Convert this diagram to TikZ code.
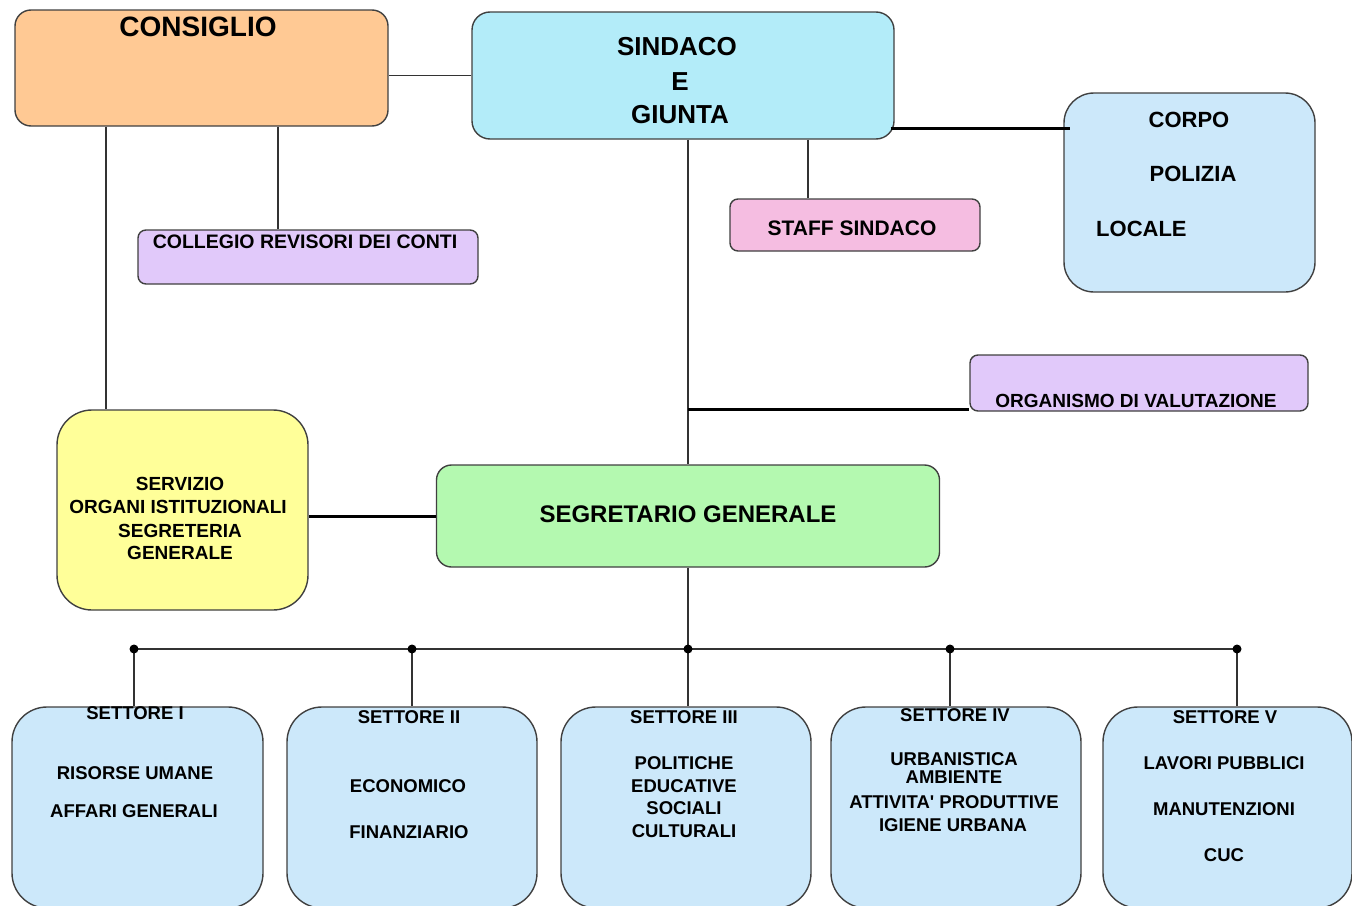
\documentclass[tikz,border=0pt]{standalone}
\usepackage{fontspec}
\setmainfont{Liberation Sans}[Ligatures=TeXOff]
\definecolor{cconsiglio}{HTML}{FFC994}
\definecolor{csindaco}{HTML}{B3ECF9}
\definecolor{cblue}{HTML}{CCE8FA}
\definecolor{cpink}{HTML}{F5BDE1}
\definecolor{clilac}{HTML}{E1C9FA}
\definecolor{cyellow}{HTML}{FFFF99}
\definecolor{cgreen}{HTML}{B4F9B0}
\definecolor{cedge}{HTML}{404040}
\definecolor{cline}{HTML}{333333}
\newcommand\fsz[1]{\fontsize{#1}{#1}\selectfont}
\tikzset{
  box/.style={draw=cedge, line width=1.4pt, inner sep=0pt},
  txt/.style={inner sep=0pt, font=\bfseries, text=black},
  conn/.style={draw=cline, line width=1.5pt},
  thickconn/.style={draw=black, line width=3pt},
}
\begin{document}
\begin{tikzpicture}[x=1pt,y=-1pt]
\useasboundingbox (0,0) rectangle (1352,905);
% boxes
\node[box, fill=cconsiglio, minimum width=373pt, minimum height=116pt, rounded corners=16pt] (cons) at (201.5,68) {};
\node[box, fill=csindaco, minimum width=422pt, minimum height=127pt, rounded corners=18pt] (sind) at (683,75.5) {};
\node[box, fill=cblue, minimum width=251pt, minimum height=199pt, rounded corners=30pt] (corpo) at (1189.5,192.5) {};
\node[box, fill=cpink, minimum width=250pt, minimum height=52pt, rounded corners=8pt] (staff) at (855,225) {};
\node[box, fill=clilac, minimum width=340pt, minimum height=54pt, rounded corners=8pt] (coll) at (308,257) {};
\node[box, fill=clilac, minimum width=338pt, minimum height=56pt, rounded corners=8pt] (org) at (1139,383) {};
\node[box, fill=cyellow, minimum width=251pt, minimum height=200pt, rounded corners=35pt] (serv) at (182.5,510) {};
\node[box, fill=cgreen, minimum width=503pt, minimum height=102pt, rounded corners=15pt] (segr) at (688,516) {};
\node[box, fill=cblue, minimum width=251pt, minimum height=201pt, rounded corners=35pt] (s1) at (137.5,807.5) {};
\node[box, fill=cblue, minimum width=250pt, minimum height=201pt, rounded corners=35pt] (s2) at (412,807.5) {};
\node[box, fill=cblue, minimum width=250pt, minimum height=201pt, rounded corners=35pt] (s3) at (686,807.5) {};
\node[box, fill=cblue, minimum width=250pt, minimum height=201pt, rounded corners=35pt] (s4) at (956,807.5) {};
\node[box, fill=cblue, minimum width=249pt, minimum height=201pt, rounded corners=35pt] (s5) at (1227.5,807.5) {};
% connectors
\draw[conn] (sind.west) -- (sind.west -| cons.east);
\draw[conn] ([xshift=-95.5pt]cons.south) -- ([xshift=-95.5pt]cons.south |- serv.north);
\draw[conn] ([xshift=76.5pt]cons.south) -- ([xshift=76.5pt]cons.south |- coll.north);
\draw[conn] ([xshift=5pt]sind.south) -- ([xshift=5pt]sind.south |- segr.north);
\draw[conn] ([xshift=125pt]sind.south) -- ([xshift=125pt]sind.south |- staff.north);
\draw[thickconn] ([xshift=-4pt,yshift=-52.5pt]sind.east) -- ([xshift=7pt,yshift=-52.5pt]sind.east -| corpo.west);
\draw[thickconn] ([yshift=-26pt]org.west -| segr.north) -- ([yshift=-26pt]org.west);
\draw[thickconn] (segr.west) -- (segr.west -| serv.east);
\coordinate (d1) at (134,649);
\coordinate (d2) at (412,649);
\coordinate (d3) at (688,649);
\coordinate (d4) at (950,649);
\coordinate (d5) at (1237,649);
\draw[conn] (segr.south) -- (d3);
\draw[conn] (d1) -- (d5);
\draw[conn] (d1) -- (d1 |- s1.north);
\draw[conn] (d2) -- (d2 |- s2.north);
\draw[conn] (d3) -- (d3 |- s3.north);
\draw[conn] (d4) -- (d4 |- s4.north);
\draw[conn] (d5) -- (d5 |- s5.north);
\foreach \d in {d1,d2,d3,d4,d5} \fill[black] (\d) circle[radius=4.5pt];
% texts
\node[txt, font=\bfseries\fsz{28}] (tcons) at (198,27) {CONSIGLIO};
\node[txt, font=\bfseries\fsz{26}] (tsa) at (677,47) {SINDACO};
\node[txt, font=\bfseries\fsz{26}] (tsb) at (680,82) {E};
\node[txt, font=\bfseries\fsz{26}] (tsc) at (680,115) {GIUNTA};
\node[txt, font=\bfseries\fsz{21}] (tstaff) at (852,228) {STAFF SINDACO};
\node[txt, font=\bfseries\fsz{22}] (tca) at (1189,120) {CORPO};
\node[txt, font=\bfseries\fsz{22}] (tcb) at (1193,174) {POLIZIA};
\node[txt, font=\bfseries\fsz{22}, anchor=west] (tcc) at (1096,229) {LOCALE};
\node[txt, font=\bfseries\fsz{19.5}] (tcoll) at (305,242) {COLLEGIO REVISORI DEI CONTI};
\node[txt, font=\bfseries\fsz{19}] (torg) at (1136,401) {ORGANISMO DI VALUTAZIONE};
\node[txt, font=\bfseries\fsz{19}] (tva) at (180,484) {SERVIZIO};
\node[txt, font=\bfseries\fsz{19}] (tvb) at (178,507) {ORGANI ISTITUZIONALI};
\node[txt, font=\bfseries\fsz{19}] (tvc) at (180,531) {SEGRETERIA};
\node[txt, font=\bfseries\fsz{19}] (tvd) at (180,553) {GENERALE};
\node[txt, font=\bfseries\fsz{24}] (tsegr) at (688,514) {SEGRETARIO GENERALE};
% settore I
\node[txt, font=\bfseries\fsz{18.5}] (t1a) at (135,713) {SETTORE I};
\node[txt, font=\bfseries\fsz{18.5}] (t1b) at (135,773) {RISORSE UMANE};
\node[txt, font=\bfseries\fsz{18.5}] (t1c) at (134,811) {AFFARI GENERALI};
% settore II
\node[txt, font=\bfseries\fsz{18.5}] (t2a) at (409,717) {SETTORE II};
\node[txt, font=\bfseries\fsz{18.5}] (t2b) at (408,786) {ECONOMICO};
\node[txt, font=\bfseries\fsz{18.5}] (t2c) at (409,832) {FINANZIARIO};
% settore III
\node[txt, font=\bfseries\fsz{18.5}] (t3a) at (684,717) {SETTORE III};
\node[txt, font=\bfseries\fsz{18.5}] (t3b) at (684,763) {POLITICHE};
\node[txt, font=\bfseries\fsz{18.5}] (t3c) at (684,786) {EDUCATIVE};
\node[txt, font=\bfseries\fsz{18.5}] (t3d) at (684,808) {SOCIALI};
\node[txt, font=\bfseries\fsz{18.5}] (t3e) at (684,831) {CULTURALI};
% settore IV
\node[txt, font=\bfseries\fsz{18.5}] (t4a) at (955,715) {SETTORE IV};
\node[txt, font=\bfseries\fsz{18.5}] (t4b) at (954,759) {URBANISTICA};
\node[txt, font=\bfseries\fsz{18.5}] (t4c) at (954,777) {AMBIENTE};
\node[txt, font=\bfseries\fsz{18.5}] (t4d) at (954,802) {ATTIVITA' PRODUTTIVE};
\node[txt, font=\bfseries\fsz{18.5}] (t4e) at (953,825) {IGIENE URBANA};
% settore V
\node[txt, font=\bfseries\fsz{18.5}] (t5a) at (1225,717) {SETTORE V};
\node[txt, font=\bfseries\fsz{18.5}] (t5b) at (1224,763) {LAVORI PUBBLICI};
\node[txt, font=\bfseries\fsz{18.5}] (t5c) at (1224,809) {MANUTENZIONI};
\node[txt, font=\bfseries\fsz{18.5}] (t5d) at (1224,855) {CUC};
\end{tikzpicture}
\end{document}
